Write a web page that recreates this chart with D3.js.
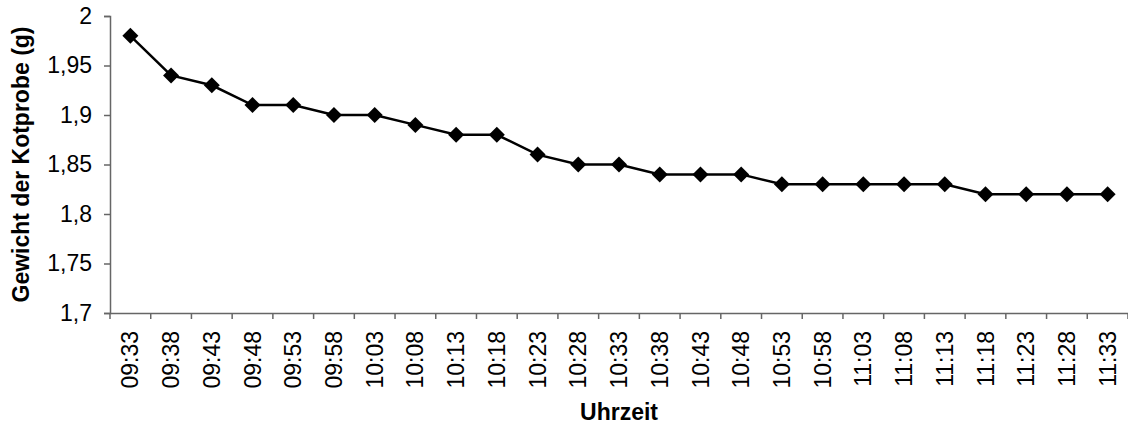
<!DOCTYPE html>
<html>
<head>
<meta charset="utf-8">
<script src="https://cdn.jsdelivr.net/npm/d3@7"></script>
<style>
  html, body { margin: 0; padding: 0; background: #fff; }
  svg { display: block; font-family: Arial, "Liberation Sans", sans-serif; }
</style>
</head>
<body>
<svg id="chart" width="1128" height="425"></svg>
<script>
// Sample times (every five minutes)
const times = ["09:33","09:38","09:43","09:48","09:53","09:58","10:03","10:08","10:13","10:18",
  "10:23","10:28","10:33","10:38","10:43","10:48","10:53","10:58","11:03","11:08",
  "11:13","11:18","11:23","11:28","11:33"];
// Weight of the sample in grams
const weights = [1.98,1.94,1.93,1.91,1.91,1.90,1.90,1.89,1.88,1.88,
  1.86,1.85,1.85,1.84,1.84,1.84,1.83,1.83,1.83,1.83,
  1.83,1.82,1.82,1.82,1.82];
const yTicks = [1.7,1.75,1.8,1.85,1.9,1.95,2];
const yTitle = "Gewicht der Kotprobe (g)";
const xTitle = "Uhrzeit";

const svg = d3.select("#chart");
const m = { left: 110, right: 1128, top: 16, bottom: 313 };
const fontSize = 23;

const x = d3.scaleBand().domain(times).range([m.left, m.right]).padding(0);
const y = d3.scaleLinear().domain([1.7, 2]).range([m.bottom, m.top]);

const de = d3.formatLocale({ decimal: ",", thousands: ".", grouping: [3], currency: ["", " €"] });
const fmt = de.format(".2~f");

const axisColor = "#666";

// Y axis
const yAxis = svg.append("g")
  .attr("transform", `translate(${m.left},0)`)
  .call(d3.axisLeft(y).tickValues(yTicks).tickFormat(fmt).tickSize(6).tickPadding(12));
yAxis.select(".domain").attr("stroke", axisColor).attr("stroke-width", 1.5);
yAxis.selectAll(".tick line").attr("stroke", axisColor).attr("stroke-width", 1.5);
yAxis.selectAll(".tick text").attr("font-size", fontSize).attr("fill", "#000")
  .attr("font-family", "Arial, 'Liberation Sans', sans-serif");

// X axis: labels centred in each category, ticks on category boundaries
const xAxis = svg.append("g")
  .attr("transform", `translate(0,${m.bottom})`)
  .call(d3.axisBottom(x).tickSize(0).tickPadding(0));
xAxis.select(".domain").attr("stroke", axisColor).attr("stroke-width", 1.5);
xAxis.selectAll(".tick text")
  .attr("font-size", fontSize).attr("fill", "#000")
  .attr("font-family", "Arial, 'Liberation Sans', sans-serif")
  .attr("text-anchor", "end")
  .attr("transform", "rotate(-90)")
  .attr("x", -18).attr("y", 0).attr("dy", "0.35em");

const bounds = d3.range(times.length + 1).map(i => m.left + i * x.step());
svg.append("g").selectAll("line").data(bounds).join("line")
  .attr("x1", d => d).attr("x2", d => d)
  .attr("y1", m.bottom).attr("y2", m.bottom + 6)
  .attr("stroke", axisColor).attr("stroke-width", 1.5);

// Axis titles
svg.append("text")
  .attr("transform", `translate(29,${(m.top + m.bottom) / 2}) rotate(-90)`)
  .attr("text-anchor", "middle")
  .attr("font-size", fontSize).attr("font-weight", "bold")
  .text(yTitle);
svg.append("text")
  .attr("x", (m.left + m.right) / 2).attr("y", 420)
  .attr("text-anchor", "middle")
  .attr("font-size", fontSize).attr("font-weight", "bold")
  .text(xTitle);

// Series line and diamond markers
const cx = d => x(d) + x.bandwidth() / 2;
const line = d3.line().x((d, i) => cx(times[i])).y(d => y(d));
svg.append("path").datum(weights)
  .attr("d", line).attr("fill", "none")
  .attr("stroke", "#000").attr("stroke-width", 2.5);

const diamond = d3.symbol(d3.symbolSquare, 128);
svg.append("g").selectAll("path").data(weights).join("path")
  .attr("d", diamond)
  .attr("transform", (d, i) => `translate(${cx(times[i])},${y(d)}) rotate(45)`)
  .attr("fill", "#000");
</script>
</body>
</html>
